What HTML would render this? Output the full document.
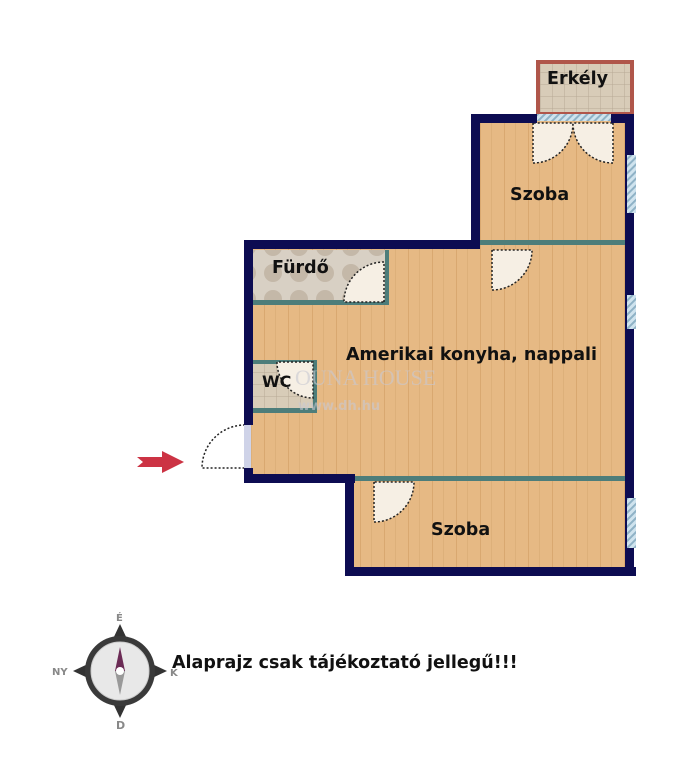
<!DOCTYPE html>
<html><head><meta charset="utf-8"><style>
html,body{margin:0;padding:0;background:#fff;width:678px;height:768px;overflow:hidden}
svg{display:block}
text{font-family:"DejaVu Sans","Liberation Sans",sans-serif;font-weight:bold;fill:#111}
</style></head><body>
<svg width="678" height="768" viewBox="0 0 678 768">
<defs>
<pattern id="wood" width="24" height="60" patternUnits="userSpaceOnUse">
<rect width="24" height="60" fill="#e6b984"/>
<rect x="0" width="1" height="60" fill="#d9a870"/>
<rect x="11" width="1" height="60" fill="#ddb07a"/>
</pattern>
<pattern id="tile" width="26" height="26" patternUnits="userSpaceOnUse">
<rect width="26" height="26" fill="#d8d0c4"/>
<circle cx="13" cy="13" r="9" fill="#c4b8a8"/>
</pattern>
<pattern id="grid" width="12" height="12" patternUnits="userSpaceOnUse">
<rect width="12" height="12" fill="#d8ccb8"/>
<path d="M0 0H12M0 0V12" stroke="#b8aa96" stroke-width="1"/>
</pattern>
<pattern id="hatch" width="5" height="5" patternUnits="userSpaceOnUse" patternTransform="rotate(45)">
<rect width="5" height="5" fill="#cfe3ee"/><rect width="2" height="5" fill="#8fb2c6"/>
</pattern>
</defs>
<rect x="538" y="62" width="94" height="52" fill="url(#grid)" stroke="#b0564a" stroke-width="4"/>
<rect x="478" y="120" width="150" height="130" fill="url(#wood)"/>
<rect x="250" y="246" width="378" height="232" fill="url(#wood)"/>
<rect x="350" y="478" width="278" height="94" fill="url(#wood)"/>
<rect x="253" y="250" width="134" height="52" fill="url(#tile)"/>
<rect x="253" y="362" width="62" height="48" fill="url(#grid)"/>
<g fill="#4d7d7a">
<rect x="480" y="240" width="145" height="5"/>
<rect x="354" y="476" width="271" height="5"/>
<rect x="253" y="300" width="136" height="5"/>
<rect x="385" y="250" width="4" height="55"/>
<rect x="253" y="408" width="64" height="5"/>
<rect x="313" y="362" width="4" height="50"/>
<rect x="253" y="360" width="64" height="4"/>
</g>
<g fill="#f6efe4" stroke="#222" stroke-width="1.5" stroke-dasharray="2,2">
<path d="M533 123V163A40 40 0 0 0 573 123Z"/>
<path d="M613 123V163A40 40 0 0 1 573 123Z"/>
<path d="M492 250V290A40 40 0 0 0 532 250Z"/>
<path d="M384 302V262A40 40 0 0 0 344 302Z"/>
<path d="M374 482V522A40 40 0 0 0 414 482Z"/>
<path d="M313 362H277A36 36 0 0 0 313 398Z"/>
<path d="M245 425A43 43 0 0 0 202 468H245" fill="none"/>
</g>
<g fill="#0d0c52">
<rect x="471" y="114" width="66" height="9"/>
<rect x="611" y="114" width="23" height="9"/>
<rect x="471" y="114" width="9" height="135"/>
<rect x="244" y="240" width="236" height="9"/>
<rect x="244" y="240" width="9" height="185"/>
<rect x="244" y="468" width="9" height="15"/>
<rect x="244" y="474" width="111" height="9"/>
<rect x="345" y="474" width="9" height="102"/>
<rect x="345" y="567" width="291" height="9"/>
<rect x="625" y="114" width="9" height="462"/>
</g>
<rect x="537" y="114" width="74" height="7" fill="url(#hatch)"/>
<rect x="244" y="425" width="7" height="43" fill="#cfd3e8"/>
<rect x="627" y="155" width="9" height="58" fill="url(#hatch)"/>
<rect x="627" y="295" width="9" height="34" fill="url(#hatch)"/>
<rect x="627" y="498" width="9" height="50" fill="url(#hatch)"/>
<text x="547" y="84" font-size="17.5">Erkély</text>
<text x="510" y="200" font-size="17.5">Szoba</text>
<text x="272" y="273" font-size="17.5">Fürdő</text>
<text x="346" y="360" font-size="17.5">Amerikai konyha, nappali</text>
<text x="262" y="387" font-size="16">WC</text>
<text x="431" y="535" font-size="17.5">Szoba</text>
<text x="295" y="385" font-size="22" style="font-family:'Liberation Serif',serif;font-weight:normal;fill:rgba(200,200,210,.6)">OUNA HOUSE</text>
<text x="298" y="410" font-size="13" style="fill:rgba(200,200,210,.6)">www.dh.hu</text>
<path d="M137 457H162V451L184 462L162 473V467H137L143 462Z" fill="#cc3344"/>
<g transform="translate(120,671)">
<path d="M0 -47L8 -30H-8Z M0 47L8 30H-8Z M-47 0L-30 -8V8Z M47 0L30 -8V8Z" fill="#333"/>
<circle r="35" fill="#3a3a3a"/>
<circle r="29" fill="#e8e8e8" stroke="#ccc"/>
<path d="M0 -24L5 0H-5Z" fill="#6b2b55"/>
<path d="M0 24L5 0H-5Z" fill="#999"/>
<circle r="4" fill="#fff"/>
<text x="-4" y="-50" font-size="10" style="fill:#888">É</text>
<text x="-4" y="58" font-size="11" style="fill:#888">D</text>
<text x="-68" y="4" font-size="10" style="fill:#888">NY</text>
<text x="50" y="5" font-size="10" style="fill:#888">K</text>
</g>
<text x="172" y="668" font-size="17.5">Alaprajz csak tájékoztató jellegű!!!</text>
</svg>
</body></html>
